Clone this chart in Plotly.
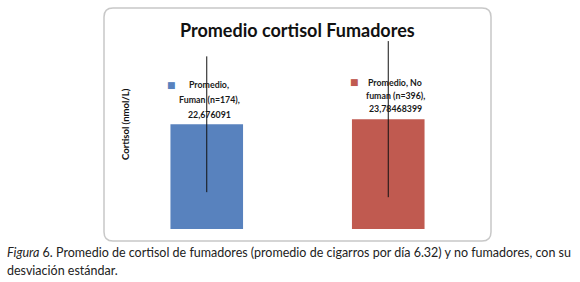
import plotly.graph_objects as go

# ---- data ----
categories = ["Promedio, Fuman (n=174)", "Promedio, No fuman (n=396)"]
label_lines = [["Promedio,", "Fuman (n=174),"], ["Promedio, No", "fuman (n=396),"]]
value_text = ["22,676091", "23,78468399"]
means = [22.676091, 23.78468399]
std_devs = [14.7, 16.9]
colors = ["#5882BE", "#C05A50"]

title_text = "Promedio cortisol Fumadores"
y_title = "Cortisol (nmol/L)"
caption_1 = ("<i>Figura</i> 6. Promedio de cortisol de fumadores (promedio de cigarros por día 6.32) "
             "y no fumadores, con su")
caption_2 = "desviación estándar."

W, H = 580, 282
L, R, T, B = 116, 101, 35, 53
PW, PH = W - L - R, H - T - B


def px(x):
    return (x - L) / PW


def py(y):
    return (H - B - y) / PH


fig = go.Figure()
for i, cat in enumerate(categories):
    fig.add_trace(go.Bar(
        x=[cat], y=[means[i]], marker=dict(color=colors[i], line=dict(width=0)),
        error_y=dict(type="data", array=[std_devs[i]], visible=True,
                     color="#111111", thickness=1, width=0),
        showlegend=False, hoverinfo="skip",
    ))

shapes = []
# rounded chart border
x0, x1, y0, y1 = px(104), px(491), py(8), py(241)
rx, ry = 9 / PW, 9 / PH
path = (f"M {x0+rx},{y0} L {x1-rx},{y0} Q {x1},{y0} {x1},{y0-ry} "
        f"L {x1},{y1+ry} Q {x1},{y1} {x1-rx},{y1} L {x0+rx},{y1} "
        f"Q {x0},{y1} {x0},{y1+ry} L {x0},{y0-ry} Q {x0},{y0} {x0+rx},{y0} Z")
shapes.append(dict(type="path", path=path, xref="paper", yref="paper",
                   line=dict(color="#C8C8C8", width=1.5), layer="below"))

label_font = dict(family="Lato", size=8.8, color="#1a1a1a", weight="bold")
annotations = []
# data labels (legend key + text lines)
label_specs = [
    dict(cx=209, ys=[84, 99, 114], sq=(171, 85)),
    dict(cx=395, ys=[82, 95, 108], sq=(354, 82)),
]
for i, spec in enumerate(label_specs):
    lines = label_lines[i] + [value_text[i]]
    for ln, yy in zip(lines, spec["ys"]):
        annotations.append(dict(text=ln, x=px(spec["cx"]), y=py(yy), xref="paper", yref="paper",
                                showarrow=False, xanchor="center", yanchor="middle", font=label_font))
    annotations.append(dict(text="■", x=px(spec["sq"][0]), y=py(spec["sq"][1]), xref="paper", yref="paper",
                            showarrow=False, xanchor="center", yanchor="middle",
                            font=dict(family="DejaVu Sans", size=9, color=colors[i])))

annotations.append(dict(text=title_text, x=px(297), y=py(30), xref="paper", yref="paper",
                        showarrow=False, xanchor="center", yanchor="middle",
                        font=dict(family="Lato", size=18, color="#111111", weight="bold")))
annotations.append(dict(text=y_title, x=px(125), y=py(124), xref="paper", yref="paper",
                        showarrow=False, xanchor="center", yanchor="middle", textangle=-90,
                        font=dict(family="Lato", size=9.5, color="#111111", weight="bold")))
cap_font = dict(family="Lato", size=12.5, color="#222222")
annotations.append(dict(text=caption_1, x=px(5), y=py(252), xref="paper", yref="paper",
                        showarrow=False, xanchor="left", yanchor="middle", font=cap_font))
annotations.append(dict(text=caption_2, x=px(5), y=py(270), xref="paper", yref="paper",
                        showarrow=False, xanchor="left", yanchor="middle", font=cap_font))

fig.update_layout(
    width=W, height=H, margin=dict(l=L, r=R, t=T, b=B, pad=0),
    paper_bgcolor="white", plot_bgcolor="white",
    bargap=0.6,
    xaxis=dict(visible=False),
    yaxis=dict(visible=False, range=[0, 42]),
    shapes=shapes, annotations=annotations,
)

fig.write_html("out.html", config={"displayModeBar": False},
               post_script="document.body.style.margin='0';document.body.style.overflow='hidden';")
